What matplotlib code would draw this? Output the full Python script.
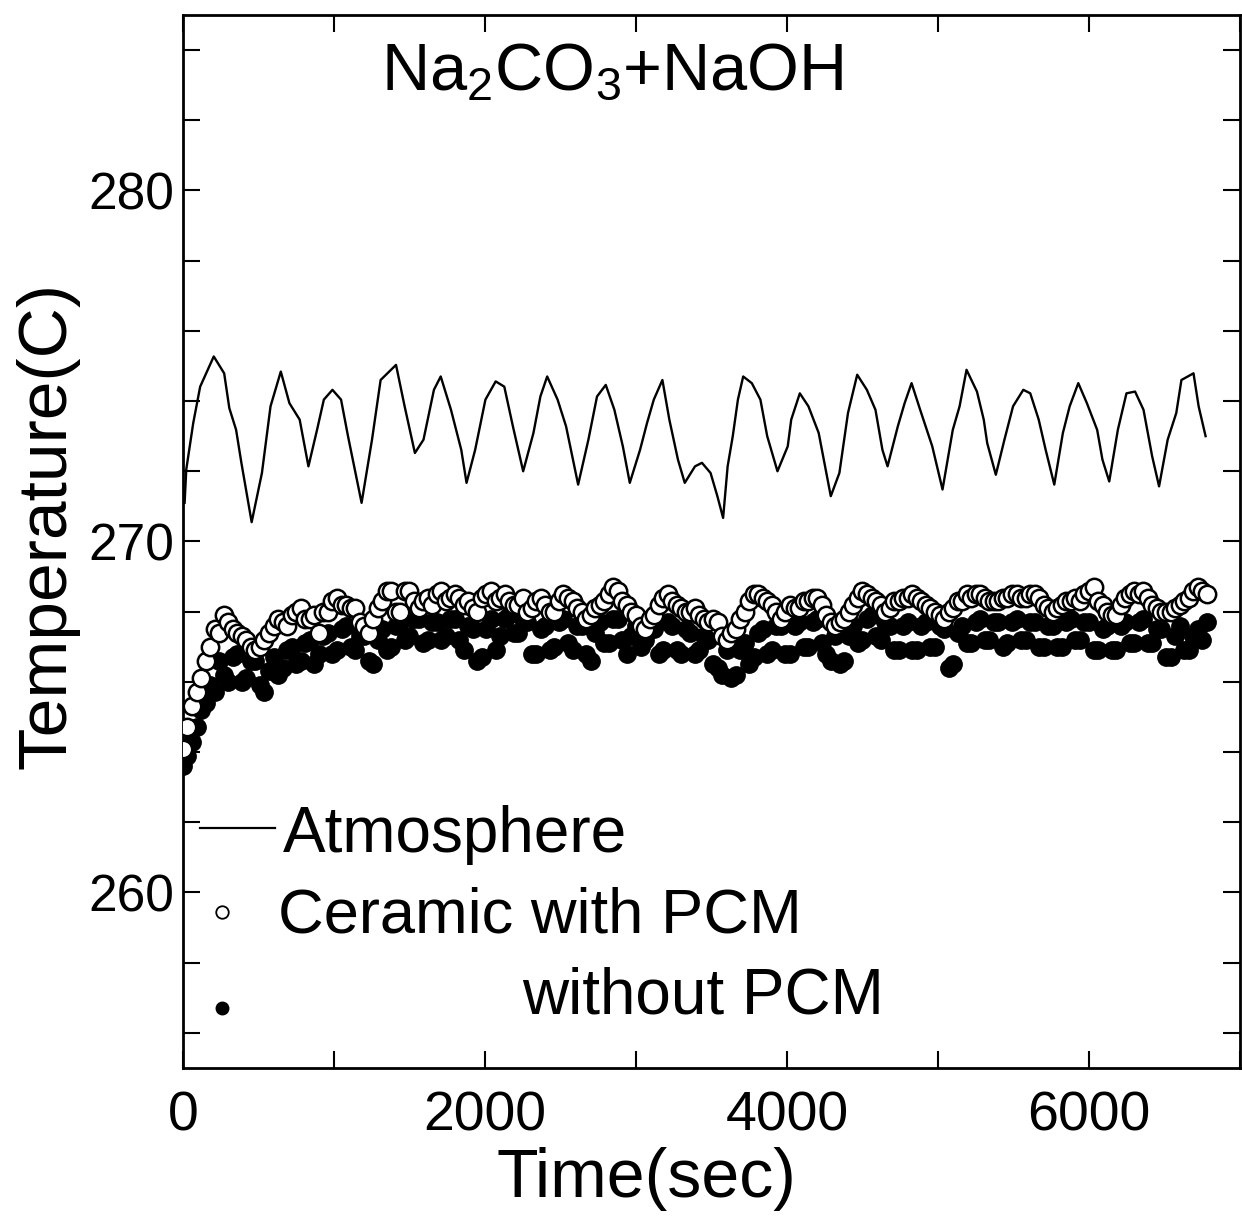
import matplotlib
matplotlib.use("Agg")
from matplotlib import pyplot as plt
from matplotlib.ticker import MultipleLocator

plt.rcParams['font.family'] = ['Liberation Sans', 'DejaVu Sans']
plt.rcParams['mathtext.fontset'] = 'custom'
plt.rcParams['mathtext.rm'] = 'Liberation Sans'
plt.rcParams['mathtext.default'] = 'regular'

# atmosphere temperature trace (sec, C)
atm_time = [11, 22, 68, 114, 204, 273, 307, 352, 387, 455,
            523, 580, 648, 705, 773, 831, 888, 933, 990, 1047,
            1093, 1138, 1183, 1252, 1309, 1411, 1468, 1536, 1593, 1662,
            1707, 1775, 1843, 1878, 1935, 2003, 2071, 2128, 2185, 2253,
            2321, 2367, 2412, 2481, 2537, 2617, 2685, 2742, 2800, 2857,
            2913, 2959, 3027, 3073, 3118, 3175, 3221, 3278, 3323, 3391,
            3437, 3494, 3539,
            3577, 3607, 3641, 3675, 3710, 3767, 3824, 3869, 3937, 4005,
            4028, 4085, 4142, 4210, 4290, 4347, 4404, 4465, 4529, 4586,
            4632, 4666, 4734, 4779, 4825, 4882, 4962, 5030, 5098, 5143,
            5189, 5258, 5303, 5326, 5383, 5440, 5497, 5565, 5611, 5667,
            5713, 5770, 5827, 5872, 5929, 5986, 6054, 6089, 6134, 6191,
            6248, 6305, 6361, 6418, 6464, 6521, 6578, 6612, 6692, 6726,
            6772]
atm_temp = [271.10, 272.05, 273.37, 274.41, 275.27, 274.79, 273.80, 273.18, 272.24, 270.55,
            271.95, 273.85, 274.84, 273.94, 273.47, 272.14, 273.18, 274.04, 274.32, 274.04,
            273.00, 272.05, 271.10, 272.90, 274.60, 275.03, 273.85, 272.52, 272.90, 274.32,
            274.70, 273.75, 272.61, 271.67, 272.61, 274.04, 274.56, 274.41, 273.28, 272.00,
            273.09, 274.13, 274.70, 274.04, 273.28, 271.62, 272.90, 274.13, 274.46, 273.75,
            272.71, 271.67, 272.61, 273.37, 274.04, 274.60, 273.47, 272.33, 271.67, 272.14,
            272.24, 271.95, 271.29,
            270.67, 272.14, 273.00, 274.04, 274.70, 274.51, 274.04, 273.00, 272.00, 272.71,
            273.47, 274.22, 273.85, 273.09, 271.29, 271.95, 273.66, 274.75, 274.32, 273.75,
            272.61, 272.14, 273.28, 273.94, 274.51, 273.75, 272.71, 271.48, 273.18, 273.85,
            274.89, 274.27, 273.47, 272.80, 271.90, 272.90, 273.85, 274.32, 274.22, 273.47,
            272.61, 271.62, 273.09, 273.85, 274.51, 273.94, 273.18, 272.33, 271.71, 273.18,
            274.22, 274.27, 273.75, 272.43, 271.57, 272.90, 273.66, 274.60, 274.79, 273.85,
            273.00]

# ceramic samples, one reading every 30 sec
sample_time = list(range(0, 6781, 30))
with_pcm = [264.1, 264.7, 265.3, 265.7, 266.1, 266.6, 267.0, 267.5, 267.4, 267.9,
            267.7, 267.5, 267.4, 267.3, 267.2, 267.0, 266.9, 267.0, 267.2, 267.4,
            267.6, 267.8, 267.7, 267.6, 267.9, 268.0, 268.1, 267.8, 267.8, 267.9,
            267.4, 268.0, 268.0, 268.3, 268.4, 268.2, 268.2, 268.1, 268.1, 267.7,
            267.6, 267.4, 267.8, 268.1, 268.3, 268.6, 268.6, 268.0, 268.0, 268.6,
            268.6, 268.3, 268.1, 268.3, 268.4, 268.2, 268.5, 268.6, 268.3, 268.4,
            268.5, 268.4, 268.2, 268.3, 268.1, 268.0, 268.4, 268.5, 268.6, 268.3,
            268.4, 268.5, 268.3, 268.2, 268.2, 268.4, 268.0, 268.1, 268.3, 268.4,
            268.2, 268.0, 268.0, 268.3, 268.5, 268.4, 268.3, 268.1, 268.0, 267.8,
            267.9, 268.1, 268.2, 268.3, 268.5, 268.7, 268.6, 268.3, 268.2, 268.0,
            267.9, 267.6, 267.5, 267.8, 267.9, 268.2, 268.4, 268.5, 268.3, 268.2,
            268.1, 268.0, 268.0, 268.1, 267.9, 267.8, 267.7, 267.8, 267.7, 267.3,
            267.2, 267.4, 267.5, 267.8, 268.0, 268.3, 268.5, 268.5, 268.4, 268.3,
            268.2, 268.0, 267.8, 268.0, 268.2, 268.1, 268.1, 268.3, 268.3, 268.4,
            268.4, 268.2, 267.9, 267.7, 267.6, 267.7, 267.8, 268.0, 268.2, 268.4,
            268.6, 268.5, 268.4, 268.3, 268.2, 268.0, 268.1, 268.3, 268.3, 268.4,
            268.4, 268.5, 268.4, 268.3, 268.2, 268.1, 268.0, 267.9, 267.8, 268.0,
            268.1, 268.3, 268.3, 268.5, 268.4, 268.5, 268.5, 268.4, 268.3, 268.3,
            268.3, 268.4, 268.4, 268.5, 268.5, 268.4, 268.4, 268.5, 268.5, 268.4,
            268.2, 268.1, 268.0, 268.1, 268.2, 268.3, 268.3, 268.4, 268.3, 268.5,
            268.6, 268.7, 268.3, 268.2, 268.0, 267.9, 267.9, 268.2, 268.4, 268.5,
            268.6, 268.5, 268.6, 268.4, 268.2, 268.1, 268.0, 268.0, 268.0, 268.1,
            268.2, 268.3, 268.4, 268.6, 268.7, 268.6, 268.5]
without_pcm = [263.6, 263.9, 264.3, 264.7, 265.2, 265.4, 265.9, 265.7, 266.6, 266.2,
               266.0, 266.7, 266.8, 266.0, 266.1, 266.6, 266.6, 265.9, 265.7, 266.3,
               266.7, 266.2, 266.4, 266.9, 267.0, 266.5, 266.6, 267.1, 267.2, 266.5,
               266.8, 267.3, 267.4, 266.8, 266.9, 267.5, 267.6, 267.0, 266.9, 267.3,
               267.3, 266.6, 266.5, 267.2, 267.5, 266.9, 267.0, 267.6, 267.7, 267.2,
               267.3, 267.8, 267.8, 267.1, 267.2, 267.7, 267.7, 267.2, 267.3, 267.8,
               267.8, 267.2, 266.9, 267.6, 267.5, 266.6, 266.7, 267.5, 267.8, 266.9,
               267.3, 267.8, 267.9, 267.4, 267.4, 267.8, 267.7, 266.8, 266.8, 267.5,
               267.6, 266.9, 267.0, 267.7, 267.8, 267.1, 266.9, 267.6, 267.6, 266.8,
               266.6, 267.4, 267.7, 267.1, 267.1, 267.8, 267.8, 267.2, 266.8, 267.3,
               267.6, 267.0, 267.2, 267.6, 267.5, 266.8, 266.9, 267.7, 267.6, 266.9,
               266.8, 267.5, 267.4, 266.8, 266.9, 267.3, 267.2, 266.5, 266.4, 266.2,
               266.9, 266.1, 266.2, 266.9, 267.1, 266.5, 266.7, 267.4, 267.5, 266.8,
               266.9, 267.6, 267.6, 266.8, 266.8, 267.6, 267.7, 267.0, 267.0, 267.7,
               267.8, 267.1, 266.8, 266.6, 267.3, 266.5, 266.6, 267.3, 267.6, 267.1,
               267.2, 267.8, 267.9, 267.3, 267.2, 267.7, 267.6, 266.9, 266.9, 267.6,
               267.7, 266.9, 266.9, 267.6, 267.7, 267.0, 267.0, 267.6, 267.5, 266.4,
               266.5, 267.4, 267.6, 267.1, 267.1, 267.7, 267.8, 267.2, 267.2, 267.7,
               267.7, 267.0, 267.1, 267.7, 267.8, 267.2, 267.2, 267.7, 267.7, 267.0,
               267.0, 267.6, 267.6, 267.0, 267.0, 267.7, 267.8, 267.2, 267.2, 267.7,
               267.7, 266.9, 266.9, 267.5, 267.6, 266.9, 266.9, 267.6, 267.7, 267.1,
               267.1, 267.7, 267.8, 267.1, 267.1, 267.5, 267.5, 266.7, 266.7, 267.3,
               267.6, 266.9, 266.9, 267.3, 267.5, 267.2, 267.7]

fig = plt.figure(figsize=(12.42, 12.25), dpi=100)
ax = fig.add_axes([0.1473, 0.1282, 0.8511, 0.8596])

ax.plot(sample_time, without_pcm, linestyle='none', marker='o', markersize=12.5,
        markerfacecolor='black', markeredgecolor='black', zorder=2)
ax.plot(sample_time, with_pcm, linestyle='none', marker='o', markersize=12.5,
        markerfacecolor='white', markeredgecolor='black', markeredgewidth=1.8, zorder=3)
ax.plot(atm_time, atm_temp, color='black', linewidth=1.7, zorder=4)

ax.set_xlim(0, 7000)
ax.set_ylim(255, 285)
ax.set_xticks([0, 2000, 4000, 6000])
ax.xaxis.set_minor_locator(MultipleLocator(1000))
ax.set_yticks([260, 270, 280])
ax.yaxis.set_minor_locator(MultipleLocator(2))

ax.tick_params(which='both', direction='in', top=True, right=True, length=12, width=1.5)
ax.tick_params(axis='x', labelsize=40, pad=16)
ax.tick_params(axis='y', labelsize=37, pad=6)
for s in ax.spines.values():
    s.set_linewidth(2)

ax.set_xlabel('Time(sec)', fontsize=49)
ax.xaxis.set_label_coords(0.438, -0.075)
ax.set_ylabel('Temperature(C)', fontsize=50)
ax.yaxis.set_label_coords(-0.098, 0.515)

ax.text(0.406, 0.929, 'Na$_2$CO$_3$+NaOH', transform=ax.transAxes,
        fontsize=48, ha='center', va='baseline')

# legend drawn by hand, the original layout is not a standard legend box
ax.plot([0.016, 0.087], [0.228, 0.228], color='black', linewidth=1.6, transform=ax.transAxes)
ax.text(0.095, 0.205, 'Atmosphere', transform=ax.transAxes, fontsize=46, va='baseline')
ax.plot([0.037], [0.148], marker='o', markersize=9, markerfacecolor='white',
        markeredgecolor='black', markeredgewidth=1.3, transform=ax.transAxes)
ax.text(0.090, 0.129, 'Ceramic with PCM', transform=ax.transAxes, fontsize=45.5, va='baseline')
ax.plot([0.037], [0.057], marker='o', markersize=9, color='black', transform=ax.transAxes)
ax.text(0.321, 0.052, 'without PCM', transform=ax.transAxes, fontsize=46, va='baseline')

fig.savefig('out.png', dpi=100)
